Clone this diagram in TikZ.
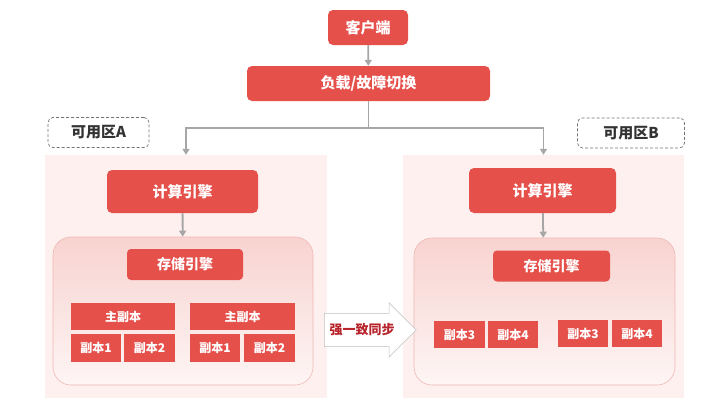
\documentclass[tikz,border=0pt]{standalone}
\usepackage{fontspec}
\setmainfont{Noto Sans CJK SC}
\usetikzlibrary{arrows.meta,shapes.arrows}
\definecolor{boxred}{HTML}{E5504B}
\definecolor{zonepink}{HTML}{FDF0EF}
\definecolor{storetop}{HTML}{F8D3D0}
\definecolor{storebot}{HTML}{FDF5F4}
\definecolor{storeline}{HTML}{EFB9B4}
\definecolor{linegray}{HTML}{A6A6A6}
\definecolor{syncred}{HTML}{B8242B}
\tikzset{
  redbox/.style={fill=boxred, text=white, font=\bfseries\fontsize{15}{17}\selectfont, rounded corners=5pt, inner sep=0pt},
  replica/.style={fill=boxred, text=white, font=\bfseries\fontsize{12}{14}\selectfont, inner sep=0pt},
  zone/.style={fill=zonepink, inner sep=0pt},
  store/.style={top color=storetop, bottom color=storebot, draw=storeline, line width=0.6pt, rounded corners=18pt, inner sep=0pt},
  zonelabel/.style={draw=black!55, dash pattern=on 3pt off 2pt, line width=0.7pt, rounded corners=5pt, text=black!80, font=\bfseries\fontsize{15}{17}\selectfont, inner sep=0pt},
  conn/.style={draw=linegray, line width=1.8pt, -{Triangle[length=6pt,width=7pt]}}
}
\begin{document}
\begin{tikzpicture}[x=1pt,y=-1pt]
  \useasboundingbox (0,0) rectangle (728,410);

  \node[zone, minimum width=282pt, minimum height=243pt] (zoneA) at (186,276.5) {};
  \node[zone, minimum width=281pt, minimum height=243pt] (zoneB) at (543.5,276.5) {};

  \node[zonelabel, minimum width=101pt, minimum height=30pt] (labelA) at (98.5,132.5) {可用区A};
  \node[zonelabel, minimum width=107pt, minimum height=30pt] (labelB) at (631,133) {可用区B};

  \node[redbox, minimum width=80pt, minimum height=35pt] (client) at (368,27.5) {客户端};
  \node[redbox, minimum width=243pt, minimum height=35pt] (failover) at (368.5,83.5) {负载/故障切换};

  \node[redbox, minimum width=151pt, minimum height=43pt] (computeA) at (182.5,191.5) {计算引擎};
  \node[redbox, minimum width=147pt, minimum height=45pt] (computeB) at (542.5,190.5) {计算引擎};

  \node[store, minimum width=260pt, minimum height=148pt] (storeA) at (183,311) {};
  \node[store, minimum width=261pt, minimum height=147pt] (storeB) at (544.5,311.5) {};

  \node[redbox, rounded corners=4pt, font=\bfseries\fontsize{14}{16}\selectfont, minimum width=116pt, minimum height=31pt] (engineA) at (185,264.5) {存储引擎};
  \node[redbox, rounded corners=4pt, font=\bfseries\fontsize{14}{16}\selectfont, minimum width=117pt, minimum height=31pt] (engineB) at (551.5,266) {存储引擎};

  \node[replica, minimum width=104pt, minimum height=27pt] (primA) at (123,316.5) {主副本};
  \node[replica, minimum width=50pt, minimum height=28pt] (repA1) at (96,348) {副本1};
  \node[replica, minimum width=51pt, minimum height=28pt] (repA2) at (149.5,348) {副本2};
  \node[replica, minimum width=105pt, minimum height=27pt] (primB) at (242.5,316.5) {主副本};
  \node[replica, minimum width=50pt, minimum height=28pt] (repB1) at (215,348) {副本1};
  \node[replica, minimum width=51pt, minimum height=28pt] (repB2) at (269.5,348) {副本2};

  \node[replica, minimum width=51pt, minimum height=27pt] (repC3) at (459.5,334.5) {副本3};
  \node[replica, minimum width=50pt, minimum height=27pt] (repC4) at (513,334.5) {副本4};
  \node[replica, minimum width=50pt, minimum height=27pt] (repD3) at (583,333.5) {副本3};
  \node[replica, minimum width=50pt, minimum height=27pt] (repD4) at (637,333.5) {副本4};

  \node[single arrow, draw=black!25, fill=white, line width=0.5pt, minimum height=92pt,
        single arrow head extend=10.5pt, inner xsep=2pt, inner ysep=10pt, text=syncred,
        font=\bfseries\fontsize{13}{15}\selectfont] (sync) at (362,330) {强一致同步};

  \coordinate (split) at (368.5,128);

  \draw[conn] (client) -- (failover);
  \draw[conn] (failover.south) -- (split) -| (zoneA.north);
  \draw[conn] (split) -| (zoneB.north);
  \draw[conn] (computeA) -- (storeA);
  \draw[conn] (computeB) -- (storeB);
\end{tikzpicture}
\end{document}
